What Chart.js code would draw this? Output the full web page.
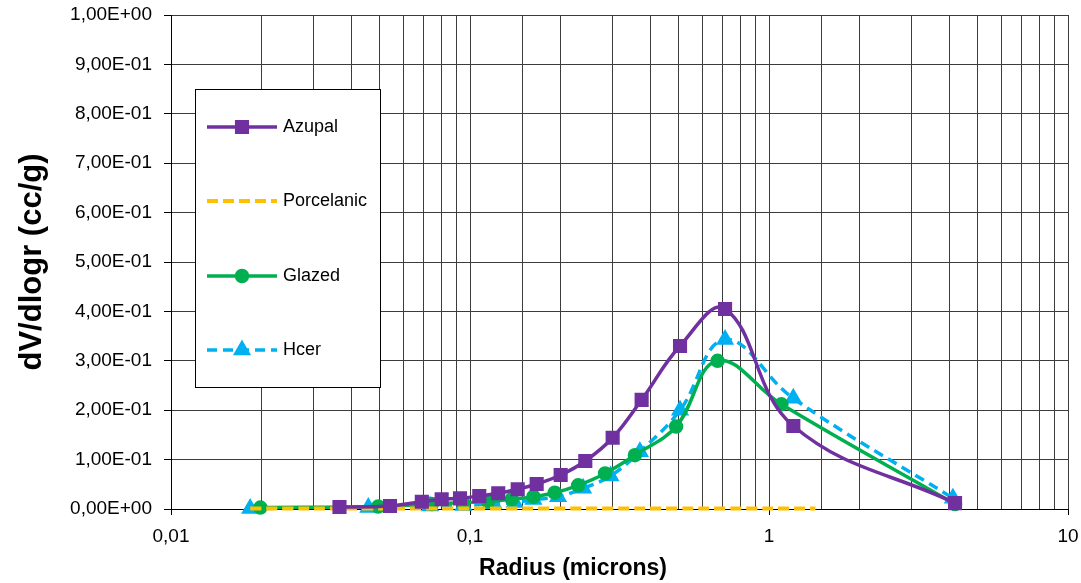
<!DOCTYPE html>
<html>
<head>
<meta charset="utf-8">
<script src="https://cdn.jsdelivr.net/npm/chart.js@4.4.1/dist/chart.umd.min.js"></script>
<style>
  html, body { margin: 0; padding: 0; background: #fff; }
  #wrap { width: 1081px; height: 583px; }
</style>
</head>
<body>
<div id="wrap"><canvas id="grafico" width="1081" height="583"></canvas></div>
<script>
// Radios (micras) y dV/dlogr (cc/g) de cada muestra
const azupalR = [0.0366, 0.054, 0.069, 0.0804, 0.0926, 0.1074, 0.1243, 0.1444, 0.1671, 0.201, 0.243, 0.300, 0.375, 0.504, 0.713, 1.206, 4.19];
const azupalV = [0.004, 0.006, 0.0148, 0.0196, 0.0216, 0.0263, 0.0318, 0.0399, 0.0506, 0.0688, 0.0972, 0.1443, 0.221, 0.330, 0.405, 0.168, 0.012];

const porcelanicR = [0.0184, 0.0457, 0.0735, 0.1197, 0.197, 0.295, 0.504, 0.713, 1.43];
const porcelanicV = [0.001, 0.001, 0.001, 0.001, 0.001, 0.001, 0.001, 0.001, 0.001];

const glazedR = [0.0199, 0.0493, 0.0745, 0.095, 0.115, 0.138, 0.163, 0.192, 0.230, 0.283, 0.356, 0.489, 0.673, 1.10, 4.19];
const glazedV = [0.003, 0.005, 0.010, 0.013, 0.015, 0.020, 0.025, 0.033, 0.048, 0.072, 0.109, 0.167, 0.300, 0.212, 0.010];

const hcerR = [0.0184, 0.0457, 0.0735, 0.095, 0.1197, 0.141, 0.163, 0.197, 0.239, 0.295, 0.370, 0.504, 0.713, 1.206, 4.12];
const hcerV = [0.001, 0.003, 0.006, 0.007, 0.011, 0.013, 0.019, 0.025, 0.042, 0.067, 0.116, 0.200, 0.343, 0.224, 0.022];

const FUENTE = "'Liberation Sans', Arial, sans-serif";
const GROSOR = 3.5;

function puntos(rs, vs) {
    return rs.map((r, i) => ({ x: r, y: vs[i] }));
}

function esDecada(v) {
    const l = Math.log10(v);
    return Math.abs(l - Math.round(l)) < 1e-6;
}

// 1,00E+00 / 9,00E-01 ...
function formatoCientifico(v) {
    if (Math.abs(v) < 1e-9) return '0,00E+00';
    let exp = Math.floor(Math.log10(Math.abs(v)) + 1e-9);
    let man = v / Math.pow(10, exp);
    const signo = exp < 0 ? '-' : '+';
    return man.toFixed(2).replace('.', ',') + 'E' + signo + String(Math.abs(exp)).padStart(2, '0');
}

const datasets = [
    {
        label: 'Azupal',
        data: puntos(azupalR, azupalV),
        borderColor: '#7030A0',
        backgroundColor: '#7030A0',
        borderWidth: GROSOR,
        pointStyle: 'rect',
        pointRadius: 7.5,
        tension: 0.4
    },
    {
        label: 'Porcelanic',
        data: puntos(porcelanicR, porcelanicV),
        borderColor: '#FFC000',
        backgroundColor: '#FFC000',
        borderWidth: 4,
        borderDash: [11, 5],
        pointRadius: 0,
        tension: 0.4
    },
    {
        label: 'Glazed',
        data: puntos(glazedR, glazedV),
        borderColor: '#00B050',
        backgroundColor: '#00B050',
        borderWidth: GROSOR,
        pointStyle: 'circle',
        pointRadius: 5.5,
        tension: 0.4
    },
    {
        label: 'Hcer',
        data: puntos(hcerR, hcerV),
        borderColor: '#00B0F0',
        backgroundColor: '#00B0F0',
        borderWidth: GROSOR,
        borderDash: [10, 6],
        pointStyle: 'triangle',
        pointRadius: 7,
        tension: 0.4
    }
];

// Leyenda dentro del área del gráfico y título del eje X
const extras = {
    id: 'extras',
    afterDatasetsDraw(chart) {
        const ctx = chart.ctx;
        const caja = { x: 195, y: 89, w: 185, h: 298 };
        const filas = [127, 201, 276, 350];
        ctx.save();
        ctx.fillStyle = '#fff';
        ctx.fillRect(caja.x, caja.y, caja.w, caja.h);
        ctx.strokeStyle = '#000';
        ctx.lineWidth = 1;
        ctx.strokeRect(caja.x + 0.5, caja.y + 0.5, caja.w, caja.h);
        chart.data.datasets.forEach((ds, i) => {
            const y = filas[i];
            ctx.strokeStyle = ds.borderColor;
            ctx.lineWidth = ds.borderWidth;
            ctx.setLineDash(ds.borderDash || []);
            ctx.beginPath();
            ctx.moveTo(207, y);
            ctx.lineTo(277, y);
            ctx.stroke();
            ctx.setLineDash([]);
            if (ds.pointRadius > 0) {
                ctx.fillStyle = ds.backgroundColor;
                ctx.strokeStyle = ds.borderColor;
                Chart.helpers.drawPoint(ctx, {
                    pointStyle: ds.pointStyle,
                    radius: ds.pointRadius,
                    rotation: 0,
                    borderWidth: 1
                }, 242, y);
            }
            ctx.fillStyle = '#000';
            ctx.font = '18px ' + FUENTE;
            ctx.textAlign = 'left';
            ctx.textBaseline = 'middle';
            ctx.fillText(ds.label, 283, y);
        });

        ctx.font = 'bold 23px ' + FUENTE;
        ctx.textAlign = 'center';
        ctx.fillText('Radius (microns)', 573, 569);
        ctx.restore();
    }
};

new Chart(document.getElementById('grafico'), {
    type: 'line',
    data: { datasets: datasets },
    plugins: [extras],
    options: {
        responsive: false,
        animation: false,
        layout: { padding: { left: 10, top: 15, right: 13, bottom: 0 } },
        datasets: { line: { clip: 6 } },
        plugins: {
            legend: { display: false },
            tooltip: { enabled: false }
        },
        scales: {
            x: {
                type: 'logarithmic',
                min: 0.01,
                max: 10,
                afterFit: (s) => { s.height = 74; s.paddingLeft = 0; s.paddingRight = 0; },
                grid: {
                    color: '#3c3c3c',
                    lineWidth: 1,
                    tickLength: 6,
                    tickColor: (c) => (c.tick && esDecada(c.tick.value)) ? '#000' : 'rgba(0,0,0,0)'
                },
                border: { color: '#000', width: 1 },
                ticks: {
                    autoSkip: false,
                    maxRotation: 0,
                    padding: 10,
                    color: '#000',
                    font: { family: FUENTE, size: 19 },
                    callback: (v) => {
                        if (!esDecada(v)) return '';
                        const e = Math.round(Math.log10(v));
                        return e >= 0 ? String(Math.round(v)) : v.toFixed(-e).replace('.', ',');
                    }
                }
            },
            y: {
                min: 0,
                max: 1,
                afterFit: (s) => { s.width = 161; s.paddingTop = 0; s.paddingBottom = 0; },
                grid: { color: '#3c3c3c', lineWidth: 1, tickLength: 7, tickColor: '#000' },
                border: { color: '#000', width: 1 },
                ticks: {
                    stepSize: 0.1,
                    padding: 12,
                    color: '#000',
                    font: { family: FUENTE, size: 19 },
                    callback: (v) => formatoCientifico(v)
                },
                title: {
                    display: true,
                    text: 'dV/dlogr (cc/g)',
                    color: '#000',
                    font: { family: FUENTE, size: 31, weight: 'bold' }
                }
            }
        }
    }
});
</script>
</body>
</html>
